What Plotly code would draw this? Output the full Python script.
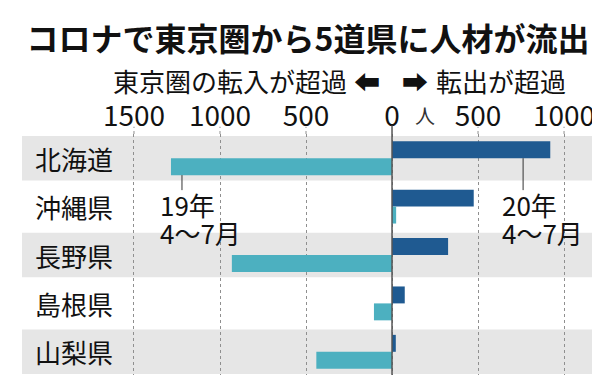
import plotly.graph_objects as go

categories = ['北海道', '沖縄県', '長野県', '島根県', '山梨県']
v2020 = [920, 475, 326, 74, 22]
v2019 = [-1285, 24, -931, -105, -440]
tick_vals = [-1500, -1000, -500, 0, 500, 1000]
tick_text = ['1500', '1000', '500', '0', '500', '1000']

FONT = 'Noto Sans CJK JP, DejaVu Sans, sans-serif'
DARK = '#1f5a91'
LIGHT = '#4cb0c0'
GRID = '#8f8f8f'

fig = go.Figure()
fig.add_trace(go.Bar(y=categories, x=v2020, orientation='h', marker_color=DARK,
                     marker_line_width=0, name='20年4~7月'))
fig.add_trace(go.Bar(y=categories, x=v2019, orientation='h', marker_color=LIGHT,
                     marker_line_width=0, name='19年4~7月'))

# gray bands on alternate rows
for i in range(0, len(categories), 2):
    fig.add_shape(type='rect', xref='paper', yref='y', x0=0, x1=1,
                  y0=i - 0.46, y1=i + 0.46, fillcolor='#e6e6e6',
                  line_width=0, layer='below')

# extended grid marks above plot
for v in tick_vals:
    if v == 0:
        continue
    fig.add_shape(type='line', xref='x', yref='paper', x0=v, x1=v, y0=1, y1=1.03,
                  line=dict(color=GRID, width=1, dash='3px,3px'))
fig.add_shape(type='line', xref='x', yref='paper', x0=0, x1=0, y0=0, y1=1.035,
              line=dict(color='#555555', width=1.5), layer='above')

# category labels
for i, c in enumerate(categories):
    fig.add_annotation(x=0, xref='paper', y=c, yref='y', text=c, showarrow=False,
                       xanchor='left', yanchor='middle', xshift=11,
                       font=dict(family=FONT, size=26, color='#111'))

# leader lines and period labels
fig.add_shape(type='line', xref='x', yref='y', x0=-1221, x1=-1221, y0=0.35, y1=0.66,
              line=dict(color='#333', width=1))
fig.add_shape(type='line', xref='x', yref='y', x0=762, x1=762, y0=0.0, y1=0.66,
              line=dict(color='#333', width=1))
for xv, lab in [(-1360, '19年'), (630, '20年')]:
    fig.add_annotation(x=xv, xref='x', y=0.95, yref='y', text=lab, showarrow=False,
                       xanchor='left', yanchor='middle',
                       font=dict(family=FONT, size=26, color='#111'))
for xv, lab in [(-1360, '4～7月'), (630, '4～7月')]:
    fig.add_annotation(x=xv, xref='x', y=1.53, yref='y', text=lab, showarrow=False,
                       xanchor='left', yanchor='middle',
                       font=dict(family=FONT, size=26, color='#111'))

# unit
fig.add_annotation(x=192, xref='x', y=1.0785, yref='paper', text='人', showarrow=False,
                   xanchor='center', yanchor='middle',
                   font=dict(family=FONT, size=20, color='#333'))

# subtitle
sub_y = 1.223
fig.add_annotation(x=(341 - 14) / 573, xref='paper', y=sub_y, yref='paper',
                   text='東京圏の転入が超過', showarrow=False, xanchor='right', yanchor='middle',
                   font=dict(family=FONT, size=26, color='#111'))
fig.add_annotation(x=(359 - 14) / 573, xref='paper', y=sub_y, yref='paper',
                   text='⬅', showarrow=False, xanchor='center', yanchor='middle',
                   font=dict(family=FONT, size=26, color='#111'))
fig.add_annotation(x=(407 - 14) / 573, xref='paper', y=sub_y, yref='paper',
                   text='➡', showarrow=False, xanchor='center', yanchor='middle',
                   font=dict(family=FONT, size=26, color='#111'))
fig.add_annotation(x=(426 - 14) / 573, xref='paper', y=sub_y, yref='paper',
                   text='転出が超過', showarrow=False, xanchor='left', yanchor='middle',
                   font=dict(family=FONT, size=26, color='#111'))

fig.update_layout(
    width=600, height=375,
    margin=dict(l=14, r=13, t=126, b=7, autoexpand=False),
    paper_bgcolor='white', plot_bgcolor='white',
    barmode='group', bargap=0.3, bargroupgap=0,
    showlegend=False,
    title=dict(text='<b>コロナで東京圏から5道県に人材が流出</b>', x=0.5, xref='container',
               xanchor='center', y=1 - 32 / 375, yanchor='middle',
               font=dict(family=FONT, size=32, color='#111')),
    xaxis=dict(range=[-2151, 1180], side='top', tickvals=tick_vals, ticktext=tick_text,
               showgrid=True, gridcolor=GRID, griddash='3px,3px', gridwidth=1,
               zeroline=False, ticks='', showline=False, automargin=False,
               ticklabelstandoff=1,
               tickfont=dict(family=FONT, size=28, color='#111'),
               fixedrange=True),
    yaxis=dict(categoryorder='array', categoryarray=categories, range=[4.5, -0.5],
               showticklabels=False, showgrid=False, zeroline=False, ticks='',
               automargin=False, fixedrange=True),
)

fig.write_html('out.html')
